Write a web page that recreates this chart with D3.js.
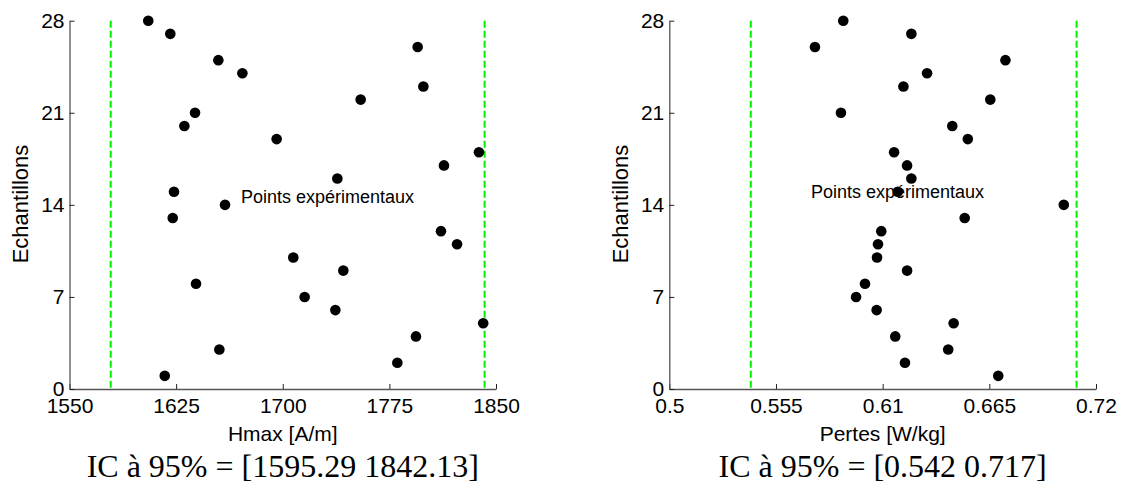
<!DOCTYPE html>
<html><head><meta charset="utf-8">
<script src="https://cdn.jsdelivr.net/npm/d3@7/dist/d3.min.js"></script>
<style>body{margin:0;background:#fff}svg{display:block}</style>
</head><body><svg id="c" width="1125" height="489"></svg>
<script>
// ---- data ----
const samples = [1,2,3,4,5,6,7,8,9,10,11,12,13,14,15,16,17,18,19,20,21,22,23,24,25,26,27,28];
const hmaxValues = [1617,1780.6,1655.4,1793.7,1841,1737,1715.4,1639,1742.6,1707.4,1822.6,1811.3,1622.6,1659.4,
  1623.5,1738.4,1813.4,1838,1695.7,1630.8,1638.3,1754.8,1798.9,1671.6,1654.7,1794.9,1620.9,1605.4];
const pertesValues = [0.6696,0.6215,0.6438,0.6165,0.6466,0.6069,0.5963,0.6009,0.6226,0.6071,0.6076,0.6093,0.6523,0.7034,
  0.6178,0.6248,0.6226,0.6159,0.6539,0.6459,0.5885,0.6655,0.6207,0.6329,0.6733,0.5751,0.6248,0.5897];
const hmaxCI = [1579, 1842];
const pertesCI = [0.542, 0.710];
const hmaxTicks = [1550, 1625, 1700, 1775, 1850];
const hmaxTickLabels = ["1550", "1625", "1700", "1775", "1850"];
const pertesTicks = [0.5, 0.555, 0.61, 0.665, 0.72];
const pertesTickLabels = ["0.5", "0.555", "0.61", "0.665", "0.72"];
const yTicks = [0, 7, 14, 21, 28];
const yTickLabels = ["0", "7", "14", "21", "28"];
const yTitle = "Echantillons";
const noteText = "Points expérimentaux";

// ---- layout ----
const svg = d3.select("#c");
const plotTop = 20.7, plotBottom = 389;

const panels = [
  {values: hmaxValues, ci: hmaxCI, ticks: hmaxTicks, labels: hmaxTickLabels, domain: [1550, 1850],
   x0: 69.5, x1: 496, xTitle: "Hmax [A/m]", ic: "IC à 95% = [1595.29 1842.13]", yTitleX: 28,
   noteX: 241, noteY: 203},
  {values: pertesValues, ci: pertesCI, ticks: pertesTicks, labels: pertesTickLabels, domain: [0.5, 0.72],
   x0: 669.3, x1: 1096, xTitle: "Pertes [W/kg]", ic: "IC à 95% = [0.542 0.717]", yTitleX: 628,
   noteX: 811, noteY: 198}
];

const y = d3.scaleLinear().domain([0, 28]).range([plotBottom, plotTop]);
const sans = "Liberation Sans, Arial, sans-serif";

panels.forEach(p => {
  const x = d3.scaleLinear().domain(p.domain).range([p.x0, p.x1]);
  const g = svg.append("g");

  const xa = g.append("g").attr("transform", `translate(0,${plotBottom})`)
    .call(d3.axisBottom(x).tickValues(p.ticks).tickFormat((d, i) => p.labels[i]).tickSizeInner(-5).tickSizeOuter(0).tickPadding(9));
  xa.select(".domain").attr("stroke", "#555").attr("stroke-width", 1.3);
  xa.selectAll(".tick line").attr("stroke", "#222");
  xa.selectAll(".tick text").attr("font-family", sans).attr("font-size", 21).attr("fill", "#000");

  const ya = g.append("g").attr("transform", `translate(${p.x0},0)`)
    .call(d3.axisLeft(y).tickValues(yTicks).tickFormat((d, i) => yTickLabels[i]).tickSizeInner(-5).tickSizeOuter(0).tickPadding(5));
  ya.select(".domain").attr("stroke", "#555").attr("stroke-width", 1.3);
  ya.selectAll(".tick line").attr("stroke", "#222");
  ya.selectAll(".tick text").attr("font-family", sans).attr("font-size", 21).attr("fill", "#000");

  g.selectAll("line.ci").data(p.ci).enter().append("line").attr("class", "ci")
    .attr("x1", d => x(d)).attr("x2", d => x(d))
    .attr("y1", y(28)).attr("y2", y(0))
    .attr("stroke", "#00f000").attr("stroke-width", 2).attr("stroke-dasharray", "7,3");

  g.selectAll("circle.pt").data(p.values).enter().append("circle").attr("class", "pt")
    .attr("cx", d => x(d)).attr("cy", (d, i) => y(samples[i]))
    .attr("r", 5.3).attr("fill", "#000");

  g.append("text").attr("x", p.noteX).attr("y", p.noteY)
    .attr("font-family", sans).attr("font-size", 18).text(noteText);

  const cx = (p.x0 + p.x1) / 2;
  g.append("text").attr("x", cx).attr("y", 441).attr("text-anchor", "middle")
    .attr("font-family", sans).attr("font-size", 21).text(p.xTitle);

  g.append("text").attr("transform", `translate(${p.yTitleX},204) rotate(-90)`).attr("text-anchor", "middle")
    .attr("font-family", sans).attr("font-size", 22).text(yTitle);

  g.append("text").attr("x", cx).attr("y", 477).attr("text-anchor", "middle")
    .attr("font-family", "Liberation Serif, Times New Roman, serif").attr("font-size", 32).text(p.ic);
});
</script></body></html>
